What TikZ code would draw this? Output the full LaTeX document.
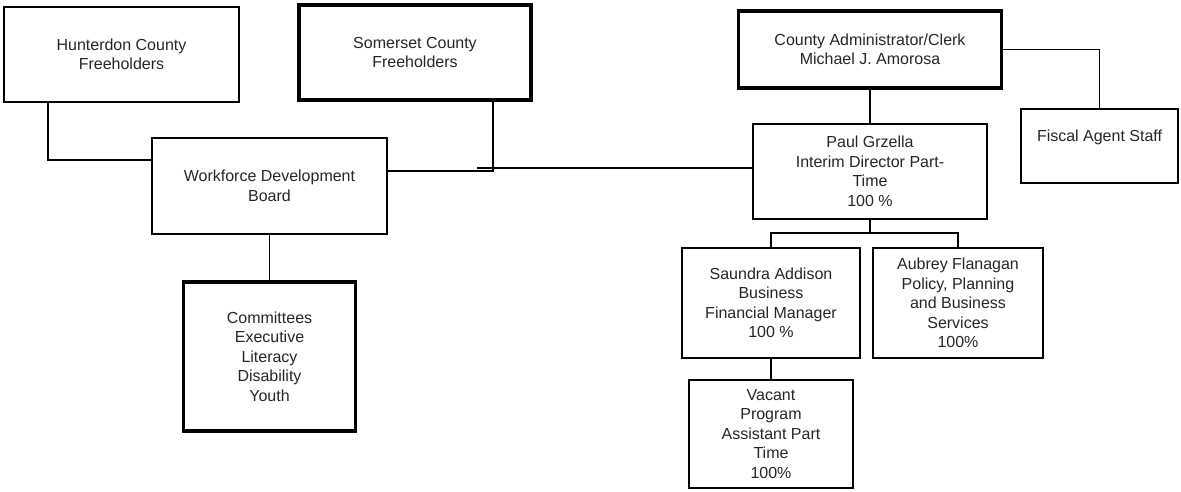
\documentclass[tikz,border=0pt]{standalone}
\usepackage{fontspec}
\setmainfont{Liberation Sans}

\begin{document}
\begin{tikzpicture}[x=0.02cm,y=-0.02cm,
  box/.style={draw,line width=1.1pt,align=center,inner sep=2pt,text=black!85,
    font=\fontsize{9.1}{11.1}\selectfont},
  boldbox/.style={box,line width=1.8pt},
  link/.style={line width=0.9pt},
  boldlink/.style={line width=1.6pt}]
\useasboundingbox (0,0) rectangle (1181,491);
\node[box,minimum width=4.7cm,minimum height=1.9cm] (hunt) at (121.5,54.5) {Hunterdon County\\Freeholders};
\node[boldbox,minimum width=4.64cm,minimum height=1.9cm] (som) at (415,52.5) {Somerset County\\Freeholders};
\node[box,minimum width=4.7cm,minimum height=1.92cm] (wdb) at (269.5,186) {Workforce Development\\Board};
\node[boldbox,minimum width=3.44cm,minimum height=2.98cm] (comm) at (269.5,356.5) {Committees\\Executive\\Literacy\\Disability\\Youth};
\node[boldbox,minimum width=5.26cm,minimum height=1.54cm] (admin) at (870,49.5) {County Administrator/Clerk\\Michael J. Amorosa};
\node[box,minimum width=3.14cm,minimum height=1.48cm,text depth=0.42cm] (fiscal) at (1099.5,146) {Fiscal Agent Staff};
\node[box,minimum width=4.68cm,minimum height=1.9cm] (paul) at (870,171.5) {Paul Grzella\\Interim Director Part-\\Time\\100 \%};
\node[box,minimum width=3.56cm,minimum height=2.2cm] (saun) at (771,303) {Saundra Addison\\Business\\Financial Manager\\100 \%};
\node[box,minimum width=3.4cm,minimum height=2.2cm] (aub) at (958,303) {Aubrey Flanagan\\Policy, Planning\\and Business\\Services\\100\%};
\node[box,minimum width=3.28cm,minimum height=2.16cm] (vac) at (771,434) {Vacant\\Program\\Assistant Part\\Time\\100\%};

\coordinate (hj) at (48,160);
\coordinate (sj) at (493,171);
\coordinate (tj) at (477,168);
\coordinate (pj) at (870,233);

\draw[link] (hunt.south -| hj) -- (hj) -- (wdb.west |- hj);
\draw[link] (som.south -| sj) -- (sj) -- (wdb.east |- sj);
\draw[boldlink] (tj) -- (paul.west |- tj);
\draw[link] (wdb.south) -- (comm.north);
\draw[link] (admin.south) -- (paul.north);
\draw[link] (admin.east) -| (fiscal.north);
\draw[link] (paul.south) -- (pj);
\draw[link] (saun.north) |- (pj) -| (aub.north);
\draw[link] (saun.south) -- (vac.north);
\end{tikzpicture}
\end{document}
